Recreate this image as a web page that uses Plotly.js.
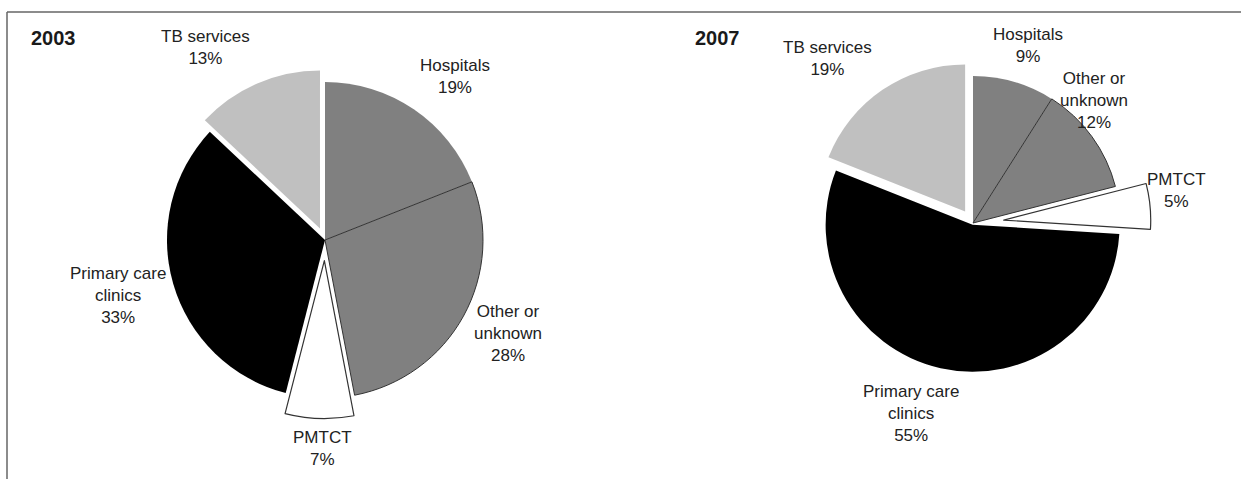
<!DOCTYPE html>
<html>
<head>
<meta charset="utf-8">
<script src="https://cdn.plot.ly/plotly-3.0.1.min.js"></script>
<style>
html,body{margin:0;padding:0;background:#fff;}
#chart{width:1241px;height:479px;}
</style>
</head>
<body>
<div id="chart"></div>
<script>
// ---- data ----
const categories = ['Hospitals', 'Other or unknown', 'PMTCT', 'Primary care clinics', 'TB services'];
const labelLines = ['Hospitals', 'Other or<br>unknown', 'PMTCT', 'Primary care<br>clinics', 'TB services'];
const years = ['2003', '2007'];
const values2003 = [19, 28, 7, 33, 13];
const values2007 = [9, 12, 5, 55, 19];

// ---- styles ----
const W = 1241, H = 479;
const sliceColors = ['#808080', '#808080', '#ffffff', '#000000', '#c0c0c0'];
const lineColors = ['#808080', '#333333', '#333333', '#000000', '#c0c0c0'];
const lineWidths = [0, 1, 1.2, 0, 0];
const pulls = {
  '2003': [0, 0, 0.13, 0, 0.08],
  '2007': [0, 0, 0.21, 0.012, 0.095]
};
// pie centers / radius in pixels
const pieGeom = {
  '2003': {cx: 325, cy: 240, r: 158},
  '2007': {cx: 973, cy: 223, r: 147}
};
// label centre positions (pixels), in category order
const labelPos = {
  '2003': [[455, 76], [508, 333], [322, 448], [118, 295], [205, 47]],
  '2007': [[1028, 45], [1094, 101], [1176, 191], [911, 413], [827, 58]]
};
const yearPos = {'2003': [53, 38], '2007': [717, 38]};

const seriesValues = {'2003': values2003, '2007': values2007};

function domainFor(year) {
  const g = pieGeom[year];
  const maxPull = Math.max.apply(null, pulls[year]);
  const half = g.r * (1 + maxPull);
  return {
    x: [(g.cx - half) / W, (g.cx + half) / W],
    y: [1 - (g.cy + half) / H, 1 - (g.cy - half) / H]
  };
}

const traces = years.map(function (yr) {
  return {
    type: 'pie',
    labels: categories,
    values: seriesValues[yr],
    sort: false,
    direction: 'clockwise',
    rotation: 0,
    pull: pulls[yr],
    textinfo: 'none',
    hoverinfo: 'label+percent',
    showlegend: false,
    marker: {colors: sliceColors, line: {color: lineColors, width: lineWidths}},
    domain: domainFor(yr)
  };
});

const labelFont = {family: 'Liberation Sans, Arial, sans-serif', size: 17, color: '#222222'};
const annotations = [];
years.forEach(function (yr) {
  const vals = seriesValues[yr];
  categories.forEach(function (c, i) {
    const p = labelPos[yr][i];
    annotations.push({
      text: labelLines[i] + '<br>' + vals[i] + '%',
      x: p[0] / W, y: 1 - p[1] / H, xref: 'paper', yref: 'paper',
      xanchor: 'center', yanchor: 'middle', showarrow: false,
      align: 'center', font: labelFont
    });
  });
  const yp = yearPos[yr];
  annotations.push({
    text: '<b>' + yr + '</b>',
    x: yp[0] / W, y: 1 - yp[1] / H, xref: 'paper', yref: 'paper',
    xanchor: 'center', yanchor: 'middle', showarrow: false,
    font: {family: 'Liberation Sans Narrow, Arial Narrow, Liberation Sans, Arial, sans-serif', size: 20, color: '#1a1a1a'}
  });
});

const shapes = [
  {type: 'line', xref: 'paper', yref: 'paper', x0: 7 / W, x1: 1, y0: 1 - 12 / H, y1: 1 - 12 / H, line: {color: '#666', width: 1.5}},
  {type: 'line', xref: 'paper', yref: 'paper', x0: 7 / W, x1: 7 / W, y0: 0, y1: 1 - 12 / H, line: {color: '#666', width: 1.5}}
];

const layout = {
  width: W, height: H,
  margin: {l: 0, r: 0, t: 0, b: 0},
  paper_bgcolor: '#ffffff',
  plot_bgcolor: '#ffffff',
  showlegend: false,
  annotations: annotations,
  shapes: shapes
};

Plotly.newPlot('chart', traces, layout, {displayModeBar: false, staticPlot: true});
</script>
</body>
</html>
